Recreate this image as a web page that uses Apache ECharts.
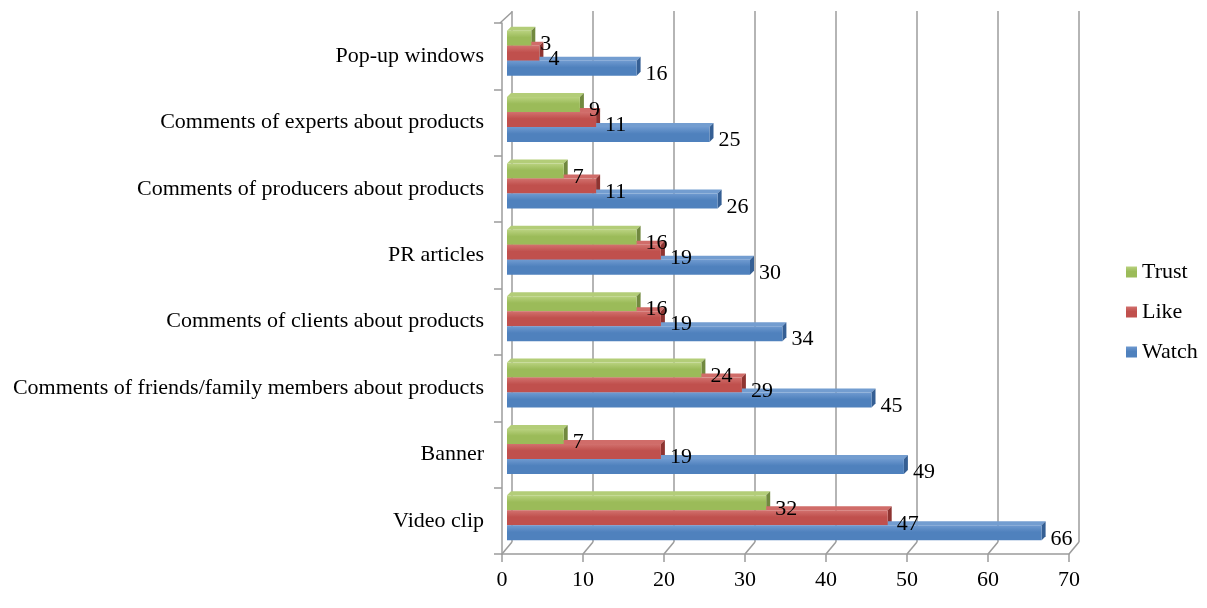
<!DOCTYPE html>
<html>
<head>
<meta charset="utf-8">
<script src="https://cdn.jsdelivr.net/npm/echarts@6/dist/echarts.min.js"></script>
<style>
  html, body { margin: 0; padding: 0; background: #fff; }
  #chart { width: 1207px; height: 608px; }
</style>
</head>
<body>
<div id="chart"></div>
<script>
// 类目从下到上
const categories = [
  'Video clip',
  'Banner',
  'Comments of friends/family members about products',
  'Comments of clients about products',
  'PR articles',
  'Comments of producers about products',
  'Comments of experts about products',
  'Pop-up windows'
];
const trust = [32, 7, 24, 16, 16, 7, 9, 3];
const like = [47, 19, 29, 19, 19, 11, 11, 4];
const watch = [66, 49, 45, 34, 30, 26, 25, 16];
const xTicks = [0, 10, 20, 30, 40, 50, 60, 70];

const FONT = '"Liberation Serif", "Times New Roman", serif';
const FS = 22;
const BAR_W = 15;
const DEPTH = 4;
const GRID_COLOR = '#9c9c9c';

const seriesDefs = [
  { name: 'Trust', data: trust, front: '#9BBB59', light: '#B9D27F', top: '#B3CD78', side: '#71893F' },
  { name: 'Like', data: like, front: '#C0504D', light: '#D2716E', top: '#D06C69', side: '#8E3431' },
  { name: 'Watch', data: watch, front: '#4F81BD', light: '#6F9AD0', top: '#739DD0', side: '#355F94' }
];

const chart = echarts.init(document.getElementById('chart'));

const series = [];

// 3D 顶面/侧面（放在柱子下层），柱子位于中间深度 grid 2
seriesDefs.forEach((s, i) => {
  const off = (i - 1) * BAR_W;
  series.push({
    type: 'custom',
    name: s.name + '-3d',
    xAxisIndex: 2, yAxisIndex: 2,
    z: 1,
    silent: true,
    data: s.data.map((v, idx) => [v, idx]),
    encode: { x: 0, y: 1 },
    renderItem(params, api) {
      const v = api.value(0);
      const c = api.value(1);
      const end = api.coord([v, c]);
      const start = api.coord([0, c]);
      const yc = end[1] + off;
      const yTop = yc - BAR_W / 2;
      const yBot = yc + BAR_W / 2;
      return {
        type: 'group',
        children: [
          { type: 'polygon', shape: { points: [[start[0], yTop], [end[0], yTop], [end[0] + DEPTH, yTop - DEPTH], [start[0] + DEPTH, yTop - DEPTH]] }, style: { fill: s.top } },
          { type: 'polygon', shape: { points: [[end[0], yTop], [end[0] + DEPTH, yTop - DEPTH], [end[0] + DEPTH, yBot - DEPTH], [end[0], yBot]] }, style: { fill: s.side } }
        ]
      };
    }
  });
});

seriesDefs.forEach(s => {
  series.push({
    type: 'bar',
    name: s.name,
    xAxisIndex: 2, yAxisIndex: 2,
    z: 2,
    data: s.data,
    barWidth: BAR_W,
    barGap: '0%',
    itemStyle: {
      color: new echarts.graphic.LinearGradient(0, 0, 0, 1, [
        { offset: 0, color: s.light },
        { offset: 0.45, color: s.front },
        { offset: 1, color: s.front }
      ])
    },
    label: {
      show: true, position: 'right', distance: 9, offset: [0, 6],
      color: '#000', fontSize: FS, fontFamily: FONT
    }
  });
});

// 地板斜线
series.push({
  type: 'custom',
  name: 'floor',
  xAxisIndex: 0, yAxisIndex: 0,
  silent: true,
  z: 0,
  data: xTicks.map(v => [v, 0]),
  encode: { x: 0 },
  renderItem(params, api) {
    const cs = params.coordSys;
    const x = api.coord([api.value(0), 0])[0];
    const yb = cs.y + cs.height;
    const children = [
      { type: 'line', shape: { x1: x, y1: yb, x2: x + 10, y2: yb - 12 }, style: { stroke: GRID_COLOR, lineWidth: 1.5 } }
    ];
    if (params.dataIndex === 0) {
      children.push({ type: 'line', shape: { x1: x - 2, y1: cs.y, x2: x + 10, y2: cs.y - 11 }, style: { stroke: GRID_COLOR, lineWidth: 1.5 } });
    }
    return { type: 'group', children };
  }
});

chart.setOption({
  backgroundColor: '#fff',
  animation: false,
  textStyle: { fontFamily: FONT },
  legend: {
    data: ['Trust', 'Like', 'Watch'],
    orient: 'vertical',
    left: 1121, top: 256,
    icon: 'rect',
    itemWidth: 11, itemHeight: 11,
    itemGap: 18,
    textStyle: { fontSize: FS, color: '#000', fontFamily: FONT }
  },
  grid: [
    { left: 502, right: 138, top: 23, bottom: 54 },
    { left: 512, right: 128, top: 11, bottom: 66 },
    { left: 507, right: 133, top: 20, bottom: 57 }
  ],
  xAxis: [
    {
      gridIndex: 0, type: 'value', min: 0, max: 70, interval: 10,
      axisLine: { show: true, lineStyle: { color: GRID_COLOR, width: 1.5 } },
      axisTick: { show: true, length: 8, lineStyle: { color: GRID_COLOR, width: 1.5 } },
      axisLabel: { color: '#000', fontSize: FS, fontFamily: FONT, margin: 15 },
      splitLine: { show: false }
    },
    {
      gridIndex: 1, type: 'value', min: 0, max: 70, interval: 10,
      axisLine: { show: false }, axisTick: { show: false }, axisLabel: { show: false },
      splitLine: { show: true, lineStyle: { color: GRID_COLOR, width: 1.5 } }
    },
    {
      gridIndex: 2, type: 'value', min: 0, max: 70, interval: 10, show: false,
      splitLine: { show: false }
    }
  ],
  yAxis: [
    {
      gridIndex: 0, type: 'category', data: categories,
      axisLine: { show: true, lineStyle: { color: GRID_COLOR, width: 1.5 } },
      axisTick: { show: true, length: 8, lineStyle: { color: GRID_COLOR, width: 1.5 } },
      axisLabel: { color: '#000', fontSize: FS, fontFamily: FONT, margin: 18 }
    },
    { gridIndex: 1, type: 'category', data: categories, show: false },
    { gridIndex: 2, type: 'category', data: categories, show: false }
  ],
  series
});
</script>
</body>
</html>
